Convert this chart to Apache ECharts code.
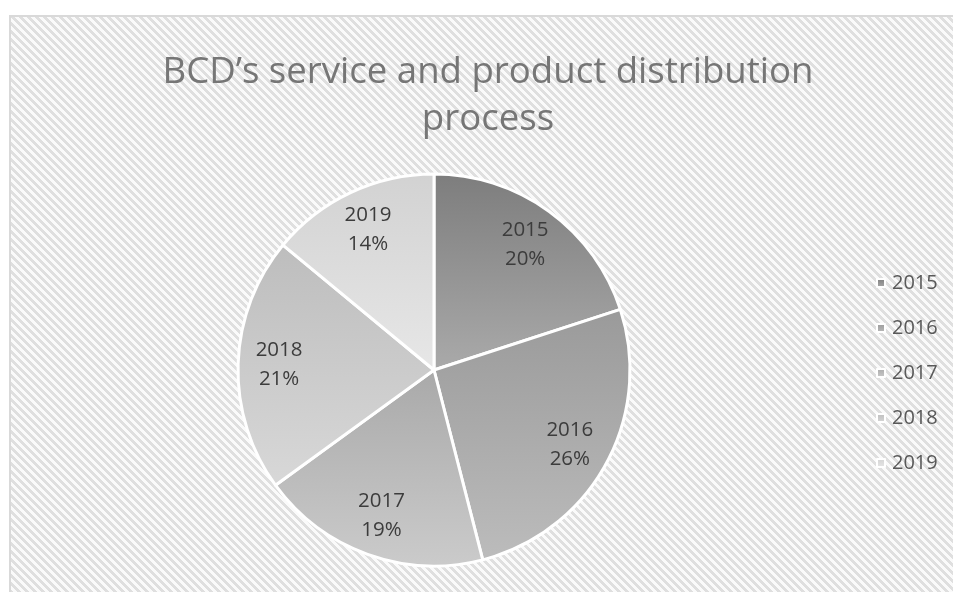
<!DOCTYPE html>
<html>
<head>
<meta charset="utf-8">
<script src="https://cdn.jsdelivr.net/npm/echarts@6/dist/echarts.min.js"></script>
<style>
  html, body { margin: 0; padding: 0; background: #ffffff; overflow: hidden; }
  #frame {
    position: absolute; left: 9px; top: 15px; width: 1000px; height: 1000px;
    border: 2px solid #d9d9d9; box-sizing: border-box;
  }
  #chart { position: absolute; left: 0; top: 0; width: 953px; height: 592px; }
</style>
</head>
<body>
<div id="frame"></div>
<div id="chart"></div>
<script>
// Years and their share of the distribution process
const years = ['2015', '2016', '2017', '2018', '2019'];
const shares = [20, 26, 19, 21, 14];

// Top and bottom shade of each slice's vertical gradient
const topShades = ['#7d7d7d', '#9a9a9a', '#a9a9a9', '#bdbdbd', '#d2d2d2'];
const bottomShades = ['#aaaaaa', '#bcbcbc', '#cbcbcb', '#d8d8d8', '#e7e7e7'];

// Hatched chart-area fill: an 8x8 tile with "\" diagonal stripes
(function () {
  const c = document.createElement('canvas');
  c.width = 8; c.height = 8;
  const ctx = c.getContext('2d');
  for (let y = 0; y < 8; y++) {
    for (let x = 0; x < 8; x++) {
      ctx.fillStyle = (((x - y) % 8 + 8) % 8) < 4 ? '#dfdfdf' : '#fafafa';
      ctx.fillRect(x, y, 1, 1);
    }
  }
  document.getElementById('frame').style.background = 'url(' + c.toDataURL() + ') repeat';
})();

function shade(i) {
  return {
    type: 'linear', x: 0, y: 0, x2: 0, y2: 1,
    colorStops: [
      { offset: 0, color: topShades[i] },
      { offset: 1, color: bottomShades[i] }
    ]
  };
}

const pieData = years.map((y, i) => ({
  name: y,
  value: shares[i],
  itemStyle: { color: shade(i) }
}));

const labelData = years.map((y, i) => ({ name: y, value: shares[i] }));

const font = '"Open Sans", "Noto Sans", sans-serif';

const chart = echarts.init(document.getElementById('chart'), null, { renderer: 'canvas' });
chart.setOption({
  animation: false,
  backgroundColor: 'transparent',
  title: {
    text: 'BCD\u2019s service and product distribution\nprocess',
    left: 483,
    top: 44,
    textAlign: 'center',
    textStyle: {
      fontFamily: font,
      fontSize: 36.6,
      fontWeight: 'normal',
      color: '#767676',
      lineHeight: 47
    }
  },
  legend: {
    orient: 'vertical',
    left: 871,
    top: 268,
    itemWidth: 8,
    itemHeight: 8,
    itemGap: 25,
    icon: 'rect',
    data: years,
    textStyle: {
      fontFamily: font,
      fontSize: 20,
      color: '#595959',
      lineHeight: 20,
      padding: [0, 0, 0, 2]
    }
  },
  series: [
    {
      type: 'pie',
      center: [434, 370],
      radius: 196,
      startAngle: 90,
      clockwise: true,
      silent: true,
      data: pieData,
      itemStyle: { borderColor: '#ffffff', borderWidth: 3 },
      label: { show: false },
      labelLine: { show: false }
    },
    {
      type: 'pie',
      center: [434, 370],
      radius: [108, 196],
      startAngle: 90,
      clockwise: true,
      silent: true,
      percentPrecision: 0,
      data: labelData,
      itemStyle: { color: 'rgba(0,0,0,0)', borderWidth: 0 },
      label: {
        show: true,
        position: 'inside',
        formatter: '{b}\n{d}%',
        fontFamily: font,
        fontSize: 20.5,
        lineHeight: 29,
        color: '#3c3c3c'
      },
      labelLine: { show: false }
    }
  ]
});
</script>
</body>
</html>
